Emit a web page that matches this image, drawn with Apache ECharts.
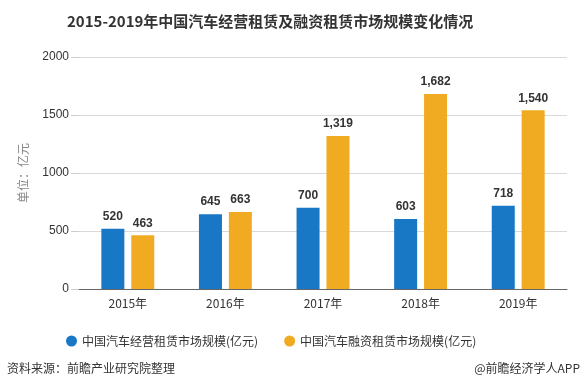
<!DOCTYPE html>
<html><head><meta charset="utf-8">
<script src="https://cdn.jsdelivr.net/npm/echarts@6/dist/echarts.min.js"></script>
<style>html,body{margin:0;padding:0;background:#fff}#c{width:582px;height:391px}</style>
</head><body><div id="c"></div>
<script>
const categories = ['2015年','2016年','2017年','2018年','2019年'];
const operatingLease = [520, 645, 700, 603, 718];
const financeLease = [463, 663, 1319, 1682, 1540];
const seriesNames = ['中国汽车经营租赁市场规模(亿元)','中国汽车融资租赁市场规模(亿元)'];
const yTicks = [0, 500, 1000, 1500, 2000];

const chart = echarts.init(document.getElementById('c'));
const font = '"Microsoft YaHei","Noto Sans CJK SC",sans-serif';
const lbl = {show:true, position:'top', color:'#333', fontWeight:'bold', fontSize:12, fontFamily:'Arial,"Liberation Sans",sans-serif', distance:6,
  formatter: p => p.value.toLocaleString('en-US')};
chart.setOption({
  animation:false,
  title:{text:'2015-2019年中国汽车经营租赁及融资租赁市场规模变化情况', left:62, top:9,
    textStyle:{fontSize:15, fontWeight:'bold', color:'#333', fontFamily:font}},
  grid:{left:79, right:15, top:57, bottom:102},
  legend:{top:330, left:61, itemWidth:11, itemHeight:11, itemGap:26, icon:'circle',
    textStyle:{fontSize:12, color:'#333', fontFamily:font}, data:seriesNames},
  xAxis:{type:'category', data:categories,
    axisLine:{lineStyle:{color:'#666'}},
    axisTick:{alignWithLabel:true, length:5, lineStyle:{color:'#666'}},
    axisLabel:{color:'#333', fontSize:12, margin:8, fontFamily:font}},
  yAxis:{type:'value', min:yTicks[0], max:yTicks[yTicks.length-1], interval:500,
    name:'单位：亿元', nameLocation:'middle', nameGap:50, nameRotate:90,
    nameTextStyle:{color:'#888', fontSize:12, fontFamily:font},
    axisLine:{show:false},
    axisTick:{show:true, length:8, lineStyle:{color:'#ccc'}},
    axisLabel:{color:'#333', fontSize:12, margin:10, formatter: v => String(v)},
    splitLine:{lineStyle:{color:'#d9d9d9'}}},
  series:[
    {name:seriesNames[0], type:'bar', data:operatingLease, barWidth:23, barGap:'30%',
      itemStyle:{color:'#1878c6'}, label:lbl},
    {name:seriesNames[1], type:'bar', data:financeLease, barWidth:23,
      itemStyle:{color:'#f0ab22'}, label:lbl}
  ],
  graphic:[
    {type:'text', left:7, top:362, style:{text:'资料来源：前瞻产业研究院整理', fontSize:12, fill:'#333', fontFamily:font}},
    {type:'text', right:2, top:362, style:{text:'@前瞻经济学人APP', fontSize:12, fill:'#333', fontFamily:font}}
  ]
});
</script></body></html>
